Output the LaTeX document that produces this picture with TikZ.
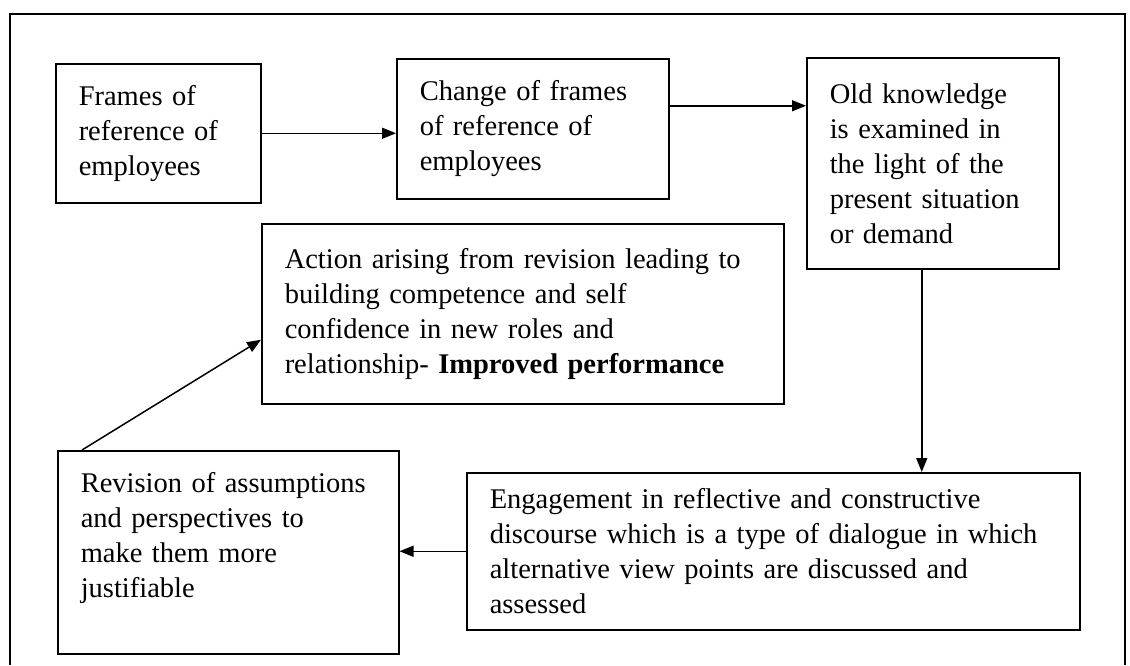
\documentclass[tikz,border=0pt]{standalone}
\usepackage{fontspec}
\setmainfont{Liberation Serif}
\usetikzlibrary{shapes,arrows.meta,positioning}

\begin{document}
\begin{tikzpicture}[x=1pt,y=-1pt,
    box/.style={draw,line width=1.5pt,anchor=north west,align=left,inner xsep=23pt,
        font=\fontsize{28.5}{35}\selectfont},
    flow/.style={line width=1.5pt,-{Triangle[length=14pt,width=11pt]}}]

                    \useasboundingbox (0,0) rectangle (1130,665);

                    %%frame
                    \draw[line width=1.5pt] (10,665) -- (10,14) -- (1125,14) -- (1125,665);

                    %%boxes
                    \node[box,text width=159pt,minimum height=139pt] (framesbox) at(55,63){Frames of\\ reference of\\ employees};
                    \node[box,text width=226pt,minimum height=140pt] (changebox) at(396,58){Change of frames\\ of reference of\\ employees};
                    \node[box,text width=206pt,minimum height=211pt] (oldknow) at(806,57){Old knowledge\\ is examined in\\ the light of the\\ present situation\\ or demand};
                    \node[box,text width=476pt,minimum height=180pt] (actionbox) at(261,223){Action arising from revision leading to\\ building competence and self\\ confidence in new roles and\\ relationship- \textbf{Improved performance}};
                    \node[box,text width=295pt,minimum height=203pt] (revisionbox) at(57,450){Revision of assumptions\\ and perspectives to\\ make them more\\ justifiable\\ ~};
                    \node[box,text width=567pt,minimum height=157pt] (engagebox) at(466,472){Engagement in reflective and constructive\\ discourse which is a type of dialogue in which\\ alternative view points are discussed and\\ assessed};

                    %%arrows
                    \draw[flow] (framesbox.east) -- (framesbox.east -| changebox.west);
                    \draw[flow] ([yshift=23pt]changebox.east) -- ([yshift=23pt]changebox.east -| oldknow.west);
                    \draw[flow] ([xshift=-11pt]oldknow.south) -- ([xshift=-11pt]oldknow.south |- engagebox.north);
                    \draw[flow] (engagebox.west) -- (engagebox.west -| revisionbox.east);
                    \draw[flow] ([xshift=25pt]revisionbox.north west) -- ([yshift=-26pt]actionbox.west);

                \end{tikzpicture}
\end{document}
